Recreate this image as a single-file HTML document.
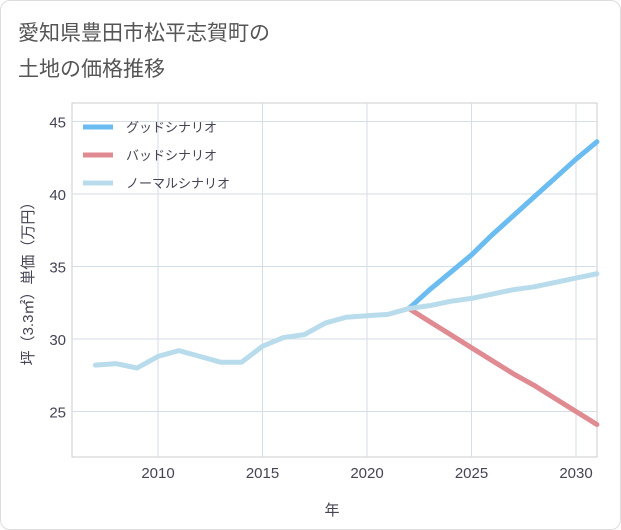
<!DOCTYPE html>
<html><head><meta charset="utf-8"><style>
body{margin:0;background:#fff;}
#card{position:absolute;left:0;top:0;width:619px;height:528px;border:1px solid #ddd;border-radius:10px;background:#fff;}
svg text{font-family:"Liberation Sans","Noto Sans CJK JP",sans-serif;}
</style></head><body>
<div id="card"></div>
<svg id="chart" width="621" height="530" style="position:absolute;left:0;top:0">
<text x="18" y="40" font-size="21" fill="#555">愛知県豊田市松平志賀町の</text>
<text x="18" y="76" font-size="21" fill="#555">土地の価格推移</text>
<g id="grid"></g><g id="series"></g><g id="legend"></g>
<text x="332" y="515" font-size="15" fill="#445" text-anchor="middle">年</text>
<text transform="translate(33,280) rotate(-90)" font-size="15" fill="#445" text-anchor="middle">坪（3.3㎡）単価（万円）</text>
</svg>
<script>
const years=[2007,2008,2009,2010,2011,2012,2013,2014,2015,2016,2017,2018,2019,2020,2021,2022,2023,2024,2025,2026,2027,2028,2029,2030,2031];
const normal=[28.2,28.3,28.0,28.8,29.2,28.8,28.4,28.4,29.5,30.1,30.3,31.1,31.5,31.6,31.7,32.1,32.3,32.6,32.8,33.1,33.4,33.6,33.9,34.2,34.5];
const fYears=[2022,2023,2024,2025,2026,2027,2028,2029,2030,2031];
const good=[32.1,33.4,34.6,35.8,37.2,38.5,39.8,41.1,42.4,43.6];
const bad=[32.1,31.2,30.3,29.4,28.5,27.6,26.8,25.9,25.0,24.1];
const xTicks=[2010,2015,2020,2025,2030];
const yTicks=[25,30,35,40,45];
const legendLabels=["グッドシナリオ","バッドシナリオ","ノーマルシナリオ"];
const L=72,R=597,T=103,B=457;
const X=v=>576+(v-2030)*20.9;
const Y=v=>339-(v-30)*14.5;
const NS="http://www.w3.org/2000/svg";
function mk(tag,attrs,parent){const e=document.createElementNS(NS,tag);for(const k in attrs)e.setAttribute(k,attrs[k]);parent.appendChild(e);return e;}
const g=document.getElementById('grid');
let r=mk('rect',{x:L,y:T,width:R-L,height:B-T,fill:'none',stroke:'#ccc'},g);


xTicks.forEach(t=>{let l=mk('line',{x1:X(t),x2:X(t),y1:T,y2:B,stroke:'#d5dde5'},g);


let tx=mk('text',{x:X(t),y:478,'font-size':15,fill:'#445','text-anchor':'middle'},g);tx.textContent=t;

});
yTicks.forEach(t=>{let l=mk('line',{x1:L,x2:R,y1:Y(t),y2:Y(t),stroke:'#d5dde5'},g);


let tx=mk('text',{x:66,y:Y(t)+6,'font-size':15,fill:'#445','text-anchor':'end'},g);tx.textContent=t;

});
const s=document.getElementById('series');
function line(xs,ys,color,name){let p=mk('polyline',{points:xs.map((x,i)=>X(x)+','+Y(ys[i])).join(' '),fill:'none',stroke:color,'stroke-width':5,'stroke-linejoin':'round','stroke-linecap':'round'},s);

}
line(fYears,good,'#6bbcf0','good-scenario-line');
line(fYears,bad,'#e08a92','bad-scenario-line');
line(years,normal,'#b8dcec','normal-scenario-line');
const lg=document.getElementById('legend');
const cols=['#6bbcf0','#e08a92','#b8dcec'];
legendLabels.forEach((lab,i)=>{const y=127+i*28;
let l=mk('line',{x1:83,x2:113,y1:y,y2:y,stroke:cols[i],'stroke-width':5},lg);


let t=mk('text',{x:126,y:y+5,'font-size':13,fill:'#445'},lg);t.textContent=lab;

});
</script>
</body></html>
